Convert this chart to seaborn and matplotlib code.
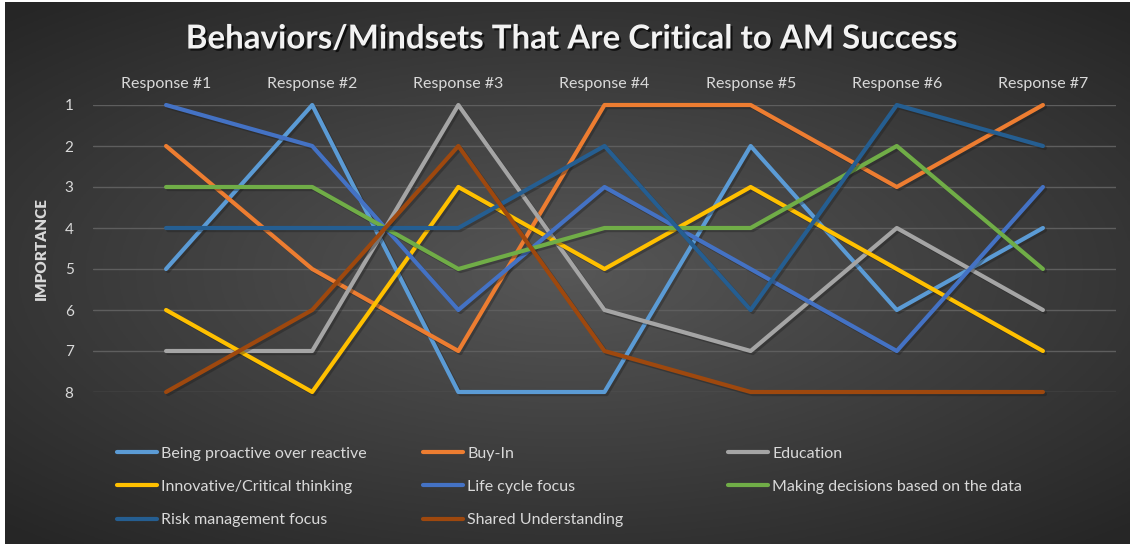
import numpy as np
import pandas as pd
import matplotlib.pyplot as plt
import matplotlib.patheffects as pe
from matplotlib.lines import Line2D
import seaborn as sns

# Chart data (importance rank per response, 1 = most important)
responses = ['Response #1', 'Response #2', 'Response #3', 'Response #4',
             'Response #5', 'Response #6', 'Response #7']
proactive = [5, 1, 8, 8, 2, 6, 4]
buy_in = [2, 5, 7, 1, 1, 3, 1]
education = [7, 7, 1, 6, 7, 4, 6]
innovative = [6, 8, 3, 5, 3, 5, 7]
life_cycle = [1, 2, 6, 3, 5, 7, 3]
data_decisions = [3, 3, 5, 4, 4, 2, 5]
risk_mgmt = [4, 4, 4, 2, 6, 1, 2]
shared = [8, 6, 2, 7, 8, 8, 8]

series = {
    'Being proactive over reactive': proactive,
    'Buy-In': buy_in,
    'Education': education,
    'Innovative/Critical thinking': innovative,
    'Life cycle focus': life_cycle,
    'Making decisions based on the data': data_decisions,
    'Risk management focus': risk_mgmt,
    'Shared Understanding': shared,
}
colors = ['#5B9BD5', '#ED7D31', '#A5A5A5', '#FFC000',
          '#4472C4', '#70AD47', '#255E91', '#9E480E']
palette = dict(zip(series.keys(), colors))

df = pd.DataFrame([
    {'Response': r, 'Behavior': name, 'Importance': v}
    for name, vals in series.items() for r, v in zip(responses, vals)
])

sns.set_theme(style='dark')
plt.rcParams['font.family'] = ['Lato', 'DejaVu Sans']

fig = plt.figure(figsize=(11.3, 5.44), dpi=100, facecolor='white')

# radial gradient background
bg = fig.add_axes([5 / 1130, 0, 1 - 5 / 1130, 1 - 2 / 544], zorder=-5)
gx, gy = np.meshgrid(np.linspace(-1, 1, 400), np.linspace(-1, 1, 200))
rr = np.clip(np.sqrt(gx ** 2 + (gy * 1.1) ** 2) / 1.45, 0, 1)
shade = 0.34 - 0.19 * rr
bg.imshow(np.dstack([shade, shade, shade]), aspect='auto', extent=[0, 1, 0, 1])
bg.set_axis_off()

ax = fig.add_axes([93 / 1130, 1 - 392 / 544, (1116 - 93) / 1130, (392 - 105) / 544])
ax.set_facecolor('none')

sns.lineplot(data=df, x='Response', y='Importance', hue='Behavior',
             palette=palette, linewidth=3.0, legend=False, ax=ax,
             sort=False, estimator=None)
for ln in ax.lines:
    ln.set_clip_on(False)
    ln.set_path_effects([pe.SimpleLineShadow(offset=(1.5, -1.5), alpha=0.35),
                         pe.Normal()])

ax.set_ylim(8, 1)
ax.set_xlim(-0.5, 6.5)
ax.set_yticks(range(1, 9))
ax.xaxis.tick_top()
ax.tick_params(axis='x', colors='#D9D9D9', labelsize=11.5, pad=10, length=0)
ax.tick_params(axis='y', colors='#D9D9D9', labelsize=11, pad=14, length=0)
ax.grid(axis='y', color='#5E5E5E', linewidth=1)
ax.grid(axis='x', visible=False)
for s in ax.spines.values():
    s.set_visible(False)
ax.set_xlabel('')
ax.set_ylabel('IMPORTANCE', color='#D9D9D9', fontsize=11, fontweight='heavy',
              labelpad=12)

fig.text(0.505, 1 - 39 / 544, 'Behaviors/Mindsets That Are Critical to AM Success',
         ha='center', va='center', color='#F2F2F2', fontsize=23.8,
         fontweight='bold',
         path_effects=[pe.withSimplePatchShadow(offset=(1.5, -1.5),
                                                shadow_rgbFace='black', alpha=0.7)])

# legend: three manually placed columns
names = list(series.keys())
columns = [[0, 3, 6], [1, 4, 7], [2, 5]]
col_x = [111, 417, 722]
for idx, x0 in zip(columns, col_x):
    handles = [Line2D([], [], color=colors[i], linewidth=3.0) for i in idx]
    fig.legend(handles, [names[i] for i in idx], loc='upper left',
               bbox_to_anchor=(x0 / 1130, 1 - 440 / 544), frameon=False,
               fontsize=11.5, labelcolor='#D9D9D9', handlelength=2.5,
               handletextpad=0.25, labelspacing=1.2, borderaxespad=0)

fig.savefig('out.png', dpi=100)
